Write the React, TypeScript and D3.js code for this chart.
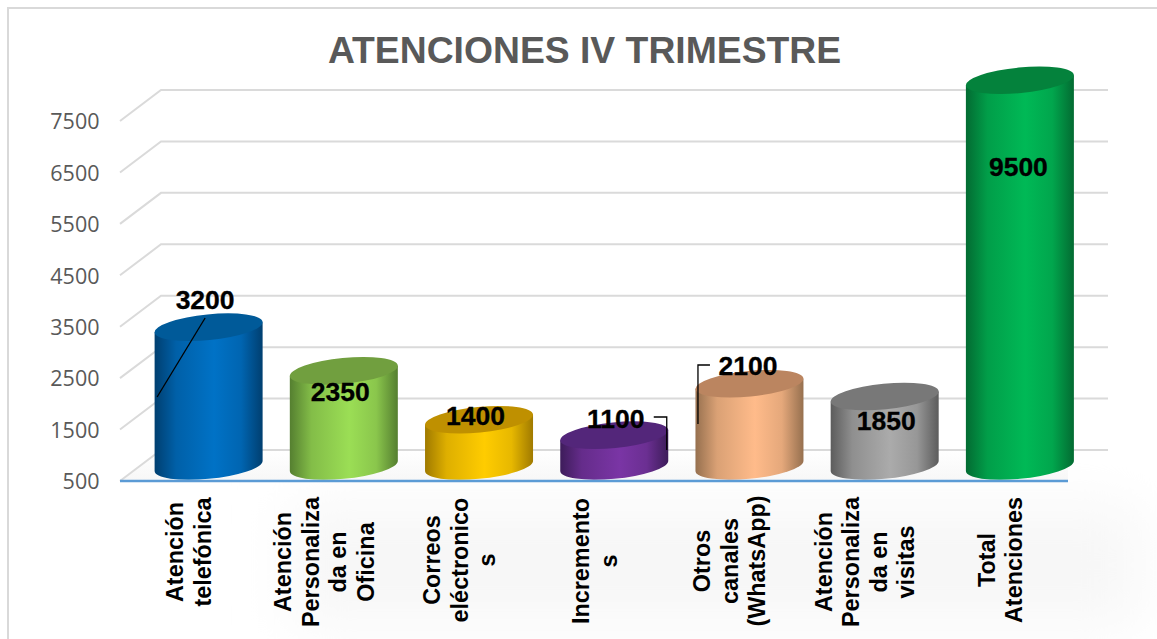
import React from "react";
import * as d3 from "d3";

const titleText = "ATENCIONES IV TRIMESTRE";
const categories = ["tel", "ofi", "mail", "inc", "otros", "vis", "total"];
const categoryLines = [
  ["Atención", "telefónica"],
  ["Atención", "Personaliza", "da en", "Oficina"],
  ["Correos", "eléctronico", "s"],
  ["Incremento", "s"],
  ["Otros", "canales", "(WhatsApp)"],
  ["Atención", "Personaliza", "da en", "visitas"],
  ["Total", "Atenciones"],
];
const values = [3200, 2350, 1400, 1100, 2100, 1850, 9500];
const tickValues = [500, 1500, 2500, 3500, 4500, 5500, 6500, 7500];
const edgeColors = ["#003f70", "#557f30", "#a07a00", "#3d1c5a", "#96704f", "#5c5c5c", "#036b32"];
const midColors = ["#0072c6", "#9bde55", "#ffcc00", "#7a35a5", "#ffbb8a", "#ababab", "#00b956"];
const topColors = ["#005a99", "#719f3f", "#bf9000", "#53267a", "#bb8560", "#787878", "#04823c"];
const labelDx = [-3.5, -3.5, -3.5, 1.5, -1.5, 1.5, -1.5];
const labelCy = [300, 392, 416, 419, 366, 421, 167];
const categoryMid = [552, 562, 560, 561, 561, 562, 560];
const leaders: (number[][] | null)[] = [
  [[-3.5, 318], [-51.5, 397]],
  null,
  null,
  [[39.5, 417], [52.5, 417], [52.5, 450]],
  [[-39.5, 365], [-51.5, 365], [-51.5, 424]],
  null,
  null,
];

const W = 1157, H = 639;
const front = { x0: 120, x1: 1068 };
const depth = { dx: 41, dy: 31 };
const y = d3.scaleLinear().domain([500, 8000]).range([481, 95.3]).clamp(true);
const x = d3.scaleBand<string>().domain(categories).range([141, 1087.5]);
const baseShift = 15;
const halfW = 54, tilt = 5, ellA = 54.24, ellB = 12.8, ellRot = -5.6;

function bodyPath(cx: number, top: number, base: number) {
  const p = d3.path();
  p.moveTo(cx - halfW, top + tilt);
  p.lineTo(cx - halfW, base + tilt);
  const arc = `A${ellA},${ellB} ${ellRot} 0 0 ${cx + halfW},${base - tilt}`;
  return `${p.toString()}${arc}L${cx + halfW},${top - tilt}Z`;
}

export default function App() {
  const lineGen = d3.line();
  return (
    <svg
      width={W}
      height={H}
      viewBox={`0 0 ${W} ${H}`}
      style={{ position: "fixed", left: 0, top: 0, background: "#fff", display: "block" }}
      fontFamily="'Liberation Sans', Arial, sans-serif"
    >
      <defs>
        {categories.map((c, i) => (
          <linearGradient key={c} id={`g${i}`} x1="0" x2="1" y1="0" y2="0">
            <stop offset="0" stopColor={edgeColors[i]} />
            <stop offset="0.2" stopColor={d3.interpolateRgb(edgeColors[i], midColors[i])(0.65)} />
            <stop offset="0.55" stopColor={midColors[i]} />
            <stop offset="0.8" stopColor={d3.interpolateRgb(edgeColors[i], midColors[i])(0.75)} />
            <stop offset="1" stopColor={edgeColors[i]} />
          </linearGradient>
        ))}
        <filter id="soft" x="-20%" y="-40%" width="140%" height="180%">
          <feGaussianBlur stdDeviation="28" />
        </filter>
        <linearGradient id="floor" x1="0" x2="0" y1="0" y2="1">
          <stop offset="0" stopColor="#ffffff" />
          <stop offset="1" stopColor="#f7f7f7" />
        </linearGradient>
      </defs>

      <rect x={290} y={505} width={850} height={120} fill="#f7f7f7" filter="url(#soft)" />
      <path d={`M${front.x0},${y(500)}L${front.x0 + depth.dx},${y(500) - depth.dy}H${front.x1}V${y(500)}Z`} fill="url(#floor)" />
      <path d={`M8,${H}V8H${W}`} fill="none" stroke="#d9d9d9" strokeWidth={2} />

      <text x={584.5} y={63} textAnchor="middle" fontSize={37.3} fontWeight={700} fill="#595959">
        {titleText}
      </text>

      {tickValues.map((t) => (
        <g key={t}>
          <path
            d={`M${front.x0},${y(t)}L${front.x0 + depth.dx},${y(t) - depth.dy}H${front.x1 + depth.dx - 1}`}
            fill="none"
            stroke="#dadada"
            strokeWidth={2}
          />
          <text x={99.5} y={y(t) + 8.3} textAnchor="end" fontSize={21.5} fontFamily="'Open Sans', sans-serif" fill="#595959">
            {t}
          </text>
        </g>
      ))}

      {categories.map((c, i) => {
        const cx = (x(c) as number) + x.bandwidth() / 2;
        const base = y(500) - baseShift;
        const top = y(values[i]) - baseShift;
        return (
          <g key={c}>
            <path d={bodyPath(cx, top, base)} fill={`url(#g${i})`} />
            <ellipse cx={cx} cy={top} rx={ellA} ry={ellB} transform={`rotate(${ellRot} ${cx} ${top})`} fill={topColors[i]} />
          </g>
        );
      })}

      <line x1={front.x0} x2={front.x1} y1={y(500)} y2={y(500)} stroke="#5b9bd5" strokeWidth={2.5} />

      {categories.map((c, i) => {
        const cx = (x(c) as number) + x.bandwidth() / 2;
        const lead = leaders[i];
        const pts = lead ? lead.map(([dx, py]) => [cx + dx, py] as [number, number]) : null;
        return (
          <g key={c}>
            {pts && <path d={lineGen(pts) as string} fill="none" stroke="#000" strokeWidth={1.3} />}
            <text x={cx + labelDx[i]} y={labelCy[i] + 9} textAnchor="middle" fontSize={26.5} fontWeight={700} fill="#000" stroke="#000" strokeWidth={0.3}>
              {values[i]}
            </text>
          </g>
        );
      })}

      {categories.map((c, i) => {
        const cx = (x(c) as number) + x.bandwidth() / 2;
        const lines = categoryLines[i];
        const lineH = 27.5;
        return (
          <g key={c}>
            {lines.map((l, j) => {
              const lx = cx - 19.5 + (j - (lines.length - 1) / 2) * lineH + 8;
              return (
                <text
                  key={j}
                  transform={`translate(${lx},${categoryMid[i]}) rotate(-90)`}
                  textAnchor="middle"
                  fontSize={23.4}
                  fontWeight={700}
                  fill="#000"
                >
                  {l}
                </text>
              );
            })}
          </g>
        );
      })}
    </svg>
  );
}
